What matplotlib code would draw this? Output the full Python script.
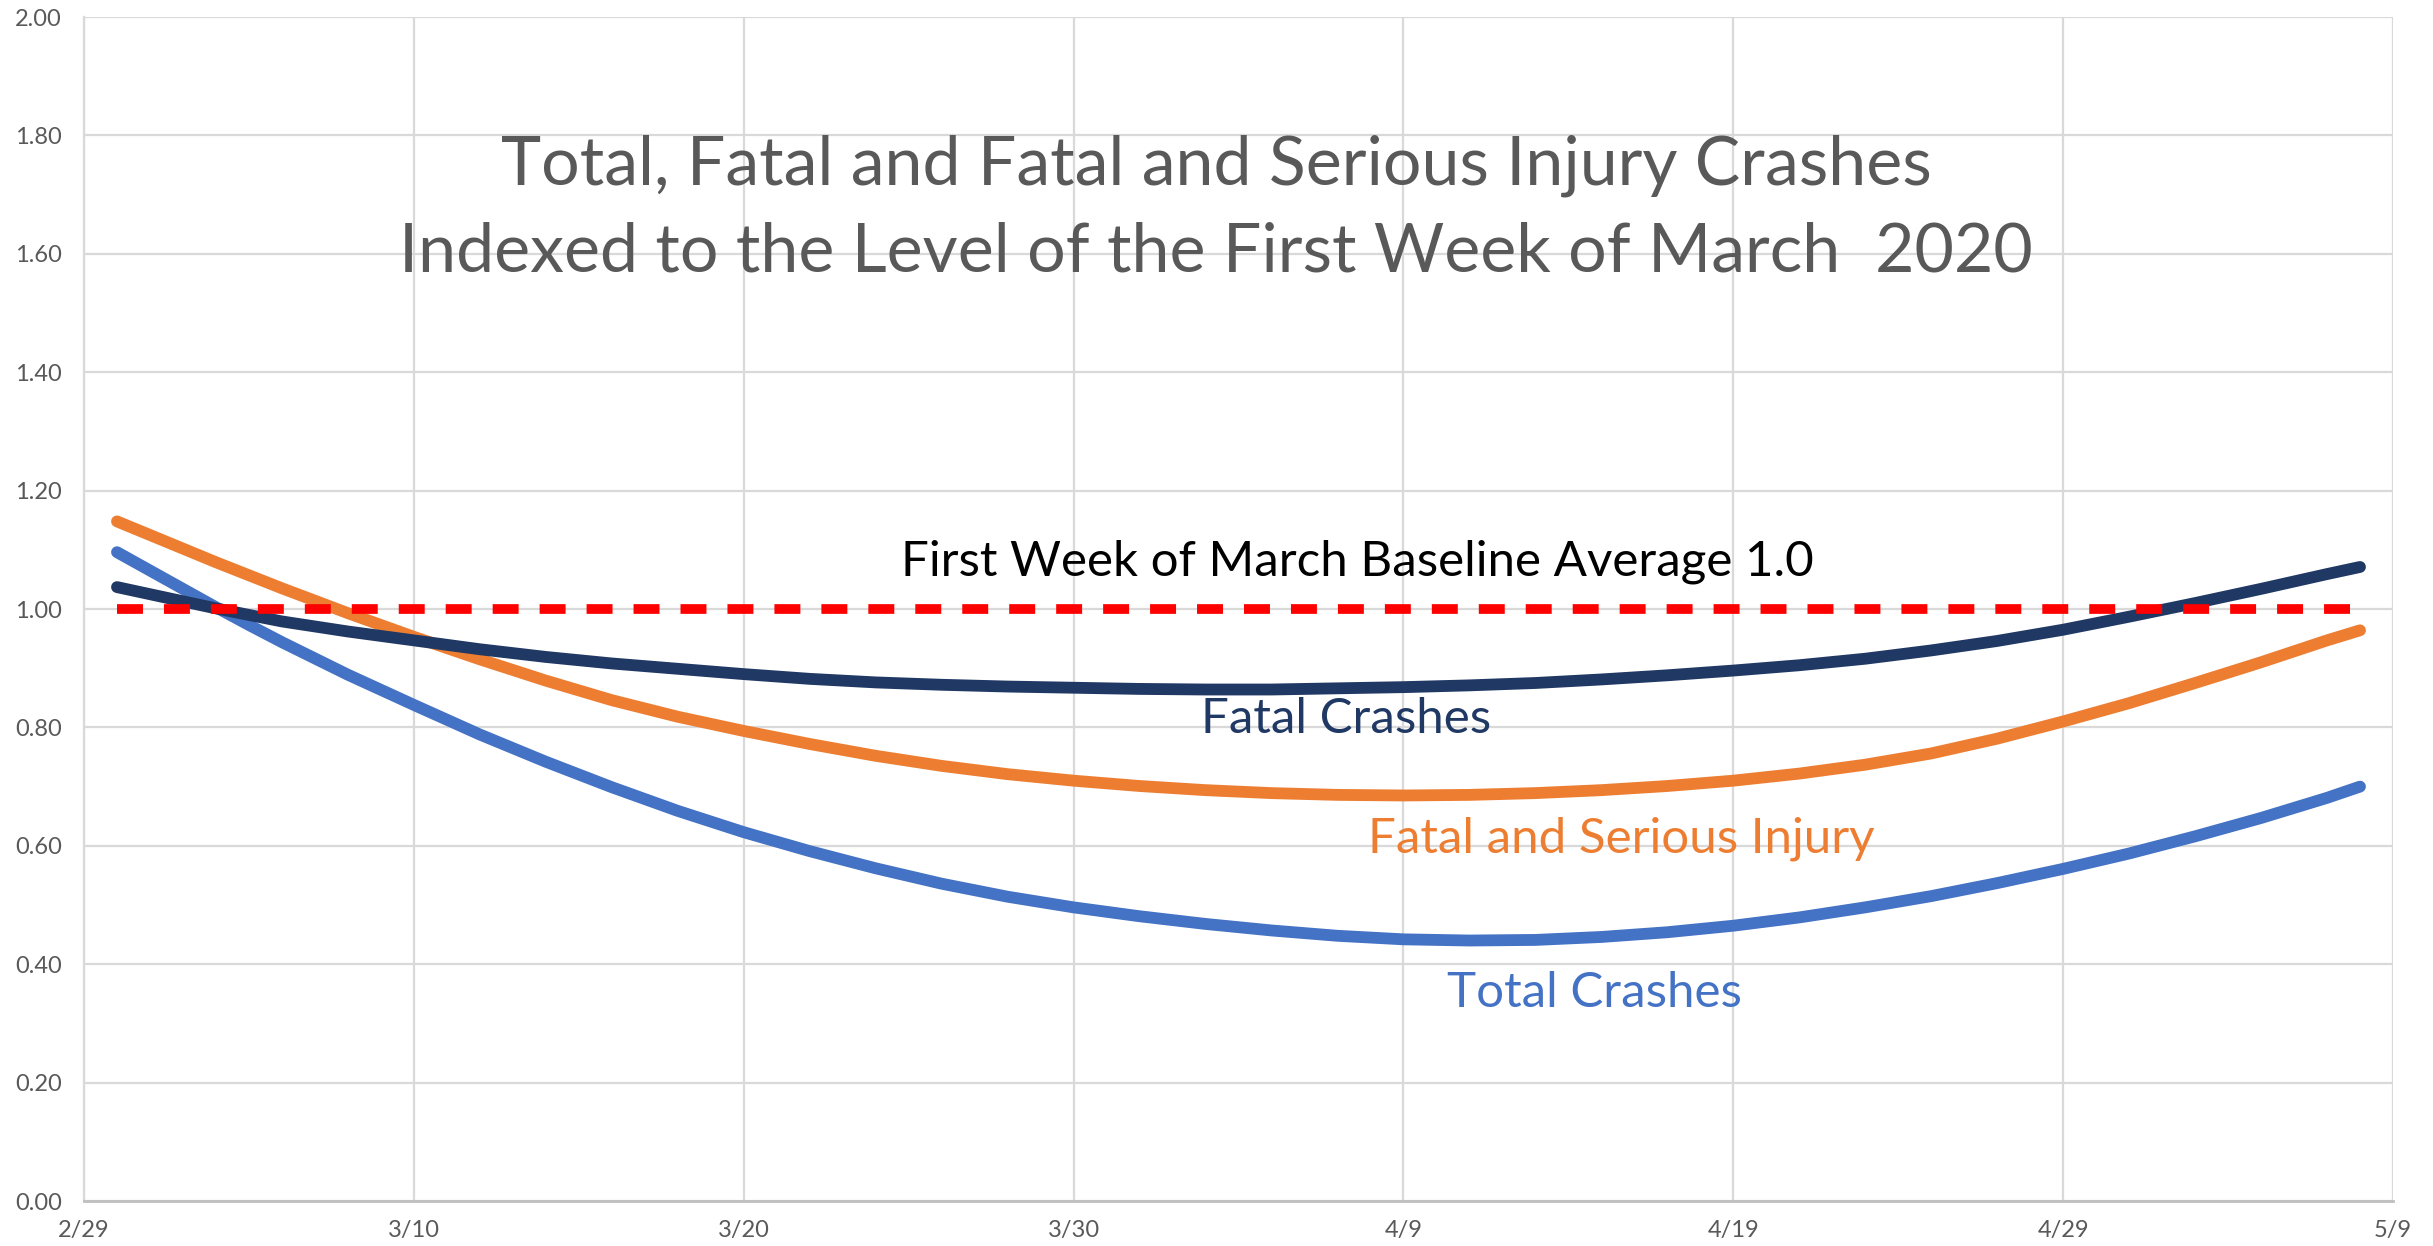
import datetime as dt
import matplotlib
matplotlib.use("Agg")
import matplotlib.pyplot as plt
import matplotlib.dates as mdates

# Data (index values), days counted from 2/29/2020
start = dt.date(2020, 2, 29)
days = [1, 2, 3, 4, 5, 6, 8, 10, 12, 14, 16, 18, 20, 22, 24, 26, 28, 30, 32, 34,
        36, 38, 40, 42, 44, 46, 48, 50, 52, 54, 56, 58, 60, 62, 64, 66, 68, 69]
total_crashes = [1.096, 1.065, 1.034, 1.003, 0.973, 0.944, 0.889, 0.838, 0.788, 0.742,
                 0.699, 0.659, 0.623, 0.591, 0.562, 0.536, 0.514, 0.496, 0.481, 0.468,
                 0.457, 0.448, 0.442, 0.440, 0.441, 0.446, 0.454, 0.465, 0.479, 0.496,
                 0.515, 0.537, 0.561, 0.587, 0.616, 0.647, 0.681, 0.700]
fatal_serious = [1.148, 1.125, 1.102, 1.079, 1.057, 1.035, 0.993, 0.953, 0.915, 0.879,
                 0.846, 0.818, 0.794, 0.772, 0.752, 0.735, 0.721, 0.710, 0.701, 0.694,
                 0.689, 0.686, 0.685, 0.686, 0.689, 0.694, 0.701, 0.710, 0.722, 0.737,
                 0.756, 0.781, 0.810, 0.841, 0.875, 0.910, 0.947, 0.964]
fatal_crashes = [1.037, 1.025, 1.013, 1.001, 0.990, 0.979, 0.962, 0.947, 0.932, 0.919,
                 0.908, 0.899, 0.890, 0.882, 0.876, 0.872, 0.869, 0.867, 0.865, 0.864,
                 0.864, 0.866, 0.868, 0.871, 0.875, 0.881, 0.888, 0.896, 0.905, 0.916,
                 0.930, 0.946, 0.965, 0.987, 1.010, 1.034, 1.059, 1.071]
baseline_days = [1, 69]
baseline = [1.0, 1.0]

tick_days = [0, 10, 20, 30, 40, 50, 60, 70]
tick_labels = ['2/29', '3/10', '3/20', '3/30', '4/9', '4/19', '4/29', '5/9']
y_ticks = [0.0, 0.2, 0.4, 0.6, 0.8, 1.0, 1.2, 1.4, 1.6, 1.8, 2.0]

dates = [start + dt.timedelta(days=d) for d in days]
base_dates = [start + dt.timedelta(days=d) for d in baseline_days]
tick_dates = [start + dt.timedelta(days=d) for d in tick_days]

plt.rcParams['font.family'] = ['Lato', 'DejaVu Sans']

fig = plt.figure(figsize=(24.33, 12.46), dpi=100)
ax = fig.add_axes([84 / 2433, 1 - 1201 / 1246, (2393 - 84) / 2433, (1201 - 17) / 1246])

grid_c = '#D9D9D9'
text_c = '#595959'

ax.plot(dates, total_crashes, color='#4472C4', lw=8.5, solid_capstyle='round',
        solid_joinstyle='round', zorder=3)
ax.plot(dates, fatal_serious, color='#ED7D31', lw=8.5, solid_capstyle='round',
        solid_joinstyle='round', zorder=3)
ax.plot(dates, fatal_crashes, color='#203864', lw=8.5, solid_capstyle='round',
        solid_joinstyle='round', zorder=4)
ax.plot(base_dates, baseline, color='#FF0000', lw=7, linestyle=(0, (2.67, 2.16)),
        dash_capstyle='butt', zorder=5)

ax.set_xlim(tick_dates[0], tick_dates[-1])
ax.set_ylim(0, 2.0)
ax.set_xticks(tick_dates)
ax.set_xticklabels(tick_labels)
ax.set_yticks(y_ticks)
ax.set_yticklabels([f'{v:.2f}' for v in y_ticks])
ax.tick_params(length=0, labelsize=17, labelcolor=text_c)
ax.tick_params(axis='x', pad=14)
ax.tick_params(axis='y', pad=16)
ax.grid(True, color=grid_c, lw=1.6)
for s in ['top', 'right']:
    ax.spines[s].set_visible(False)
ax.spines['left'].set_color(grid_c)
ax.spines['left'].set_linewidth(1.6)
ax.spines['bottom'].set_color('#BFBFBF')
ax.spines['bottom'].set_linewidth(2)
ax.set_axisbelow(True)

# Title
fig.text(0.4998, 1 - 166 / 1246, 'Total, Fatal and Fatal and Serious Injury Crashes',
         ha='center', va='center', fontsize=49, color=text_c)
fig.text(0.4998, 1 - 253 / 1246, 'Indexed to the Level of the First Week of March  2020',
         ha='center', va='center', fontsize=49, color=text_c)

# Series labels
def day(d):
    return mdates.date2num(start) + d

ax.text(day(38.6), 1.057, 'First Week of March Baseline Average 1.0', ha='center',
        va='baseline', fontsize=35.5, color='black')
ax.text(day(38.25), 0.791, 'Fatal Crashes', ha='center', va='baseline', fontsize=35.5,
        color='#203864')
ax.text(day(46.6), 0.588, 'Fatal and Serious Injury', ha='center', va='baseline',
        fontsize=35.5, color='#ED7D31')
ax.text(day(45.8), 0.328, 'Total Crashes', ha='center', va='baseline', fontsize=35.5,
        color='#4472C4')

fig.savefig('out.png', dpi=100)
